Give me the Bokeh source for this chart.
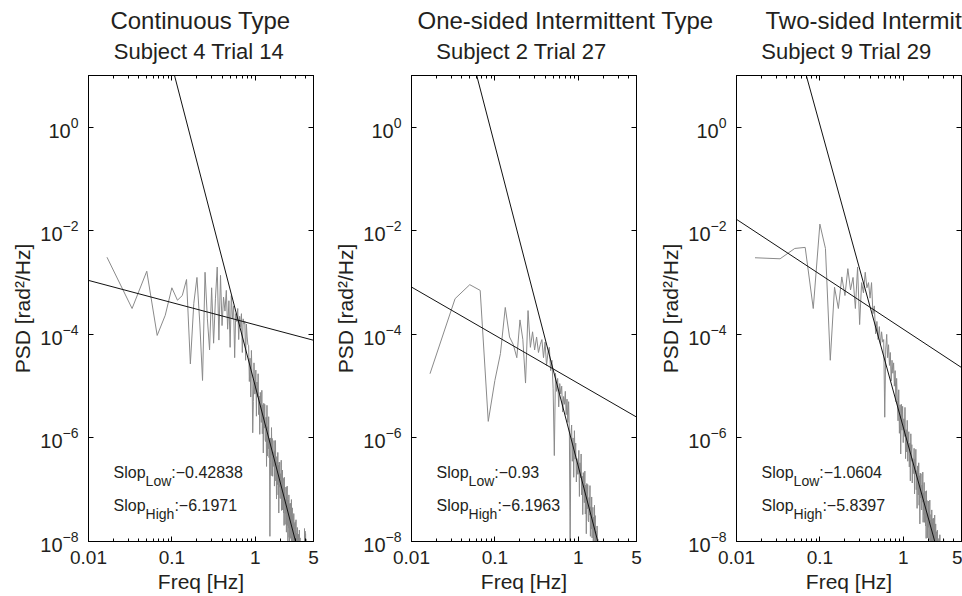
import numpy as np
from bokeh.plotting import figure
from bokeh.layouts import row, column
from bokeh.models import FixedTicker, LogAxis, Label, CustomJSTickFormatter
from bokeh.embed import file_html
from bokeh.resources import INLINE

FONT = "Liberation Sans"
TXT = "#231f20"
GRAY = "#8a8a8a"

# ---------------- data ----------------
main_titles = ["Continuous Type", "One-sided Intermittent Type", "Two-sided Intermittent Type"]
sub_titles = ["Subject 4  Trial 14", "Subject 2  Trial 27", "Subject 9  Trial 29"]

slope_low = [-0.42838, -0.93, -1.0604]
slope_high = [-6.1971, -6.1963, -5.8397]
# log10 of each fitted line's PSD value at 1 Hz
fit_low_at_1hz = [-3.814, -4.946, -3.899]
fit_high_at_1hz = [-5.0, -6.545, -5.79]

freq_step = 1.0 / 60.0  # Hz (60 s trials)

# log10 PSD [rad^2/Hz] at k * freq_step, k = 1, 2, ...
psd1_log10 = [
    -2.51, -3.50, -2.78, -4.02, -3.63, -3.10, -3.34, -3.25, -2.94, -4.57,
    -3.40, -2.90, -3.80, -4.89, -2.80, -3.70, -4.30, -3.10, -4.17, -3.30,
    -2.70, -4.11, -2.86, -3.83, -3.28, -3.55, -3.15, -3.90, -3.35, -4.25,
    -3.25, -3.70, -3.45, -4.45, -3.60, -3.75, -3.50, -4.10, -3.65, -3.85,
    -3.60, -4.35, -3.70, -3.80, -3.75, -4.50, -3.80, -4.05, -4.20,
    -4.21, -4.91, -4.46, -5.21, -4.31, -4.85, -5.90, -5.30, -4.55, -5.15,
    -5.15, -4.69, -5.58, -4.92, -5.21, -4.76, -5.55, -5.19, -5.93, -5.12,
    -5.31, -5.70, -5.08, -5.92, -5.36, -6.29, -5.33, -5.81, -5.35, -6.04,
    -6.07, -5.60, -6.55, -5.37, -6.35, -5.78, -6.21, -5.59, -6.38, -6.01,
    -7.90, -6.47, -6.00, -6.73, -5.80, -6.33, -6.01, -6.74, -6.27, -6.55,
    -6.53, -6.05, -6.93, -6.25, -6.53, -6.05, -6.83, -6.46, -7.18, -6.36,
    -6.53, -6.90, -6.28, -7.10, -6.53, -7.45, -6.47, -6.95, -6.47, -7.15,
    -7.17, -6.69, -7.01, -6.43, -7.40, -6.82, -7.25, -6.62, -7.39, -7.01,
    -6.78, -7.45, -6.97, -7.69, -6.76, -7.28, -6.95, -7.67, -7.19, -7.46,
    -7.43, -6.95, -7.82, -7.14, -7.41, -6.93, -7.69, -7.31, -8.03, -7.20,
    -7.37, -7.74, -7.10, -7.92, -7.34, -8.25, -7.27, -7.74, -7.26, -7.92,
    -7.94, -7.46, -7.77, -7.19, -8.15, -7.57, -7.99, -7.35, -8.12, -7.73,
    -7.50, -8.17, -7.68, -8.40, -7.46, -7.98, -7.65, -8.36, -7.88, -8.14,
    -8.11, -7.62, -8.49, -7.80, -8.07, -7.58, -8.34, -7.96, -8.67, -7.84,
    -8.00, -8.36, -7.73, -8.54, -7.96, -8.87, -7.88, -8.35, -7.86, -8.53,
    -8.54, -8.05, -8.37, -7.78, -8.74, -8.15, -8.57, -7.93, -8.69, -8.31,
    -8.07, -8.73, -8.25, -8.96, -8.02, -8.53, -8.20, -8.91, -8.42, -8.69,
    -8.65, -8.16, -9.02, -8.34, -8.60, -8.11, -8.87, -8.48, -9.20, -8.36,
    -8.52, -8.88, -8.24, -9.05, -7.75, -9.38, -8.39, -8.85, -7.80, -9.03,
    -9.00, -7.85, -9.20, -8.50, -7.95, -9.30, -8.60,
]

psd2_log10 = [
    -4.76, -3.31, -3.04, -3.15, -5.68, -4.89, -4.37, -3.48, -4.05, -4.20,
    -4.45, -3.72, -4.10, -4.94, -3.54, -4.25, -3.95, -4.30, -4.05, -4.35,
    -4.20, -4.10, -4.45, -4.15, -4.60, -4.35, -4.25, -4.70, -4.50, -5.05,
    -6.34, -4.75, -5.10, -4.85, -5.40, -4.95, -5.15, -5.00, -5.50, -5.20,
    -5.35, -5.10, -5.55, -5.25, -5.70, -5.30, -5.90, -8.20, -5.95,
    -5.75, -6.45, -6.00, -6.76, -5.86, -6.41, -6.10, -6.85, -6.40, -6.70,
    -6.70, -6.24, -7.13, -6.48, -6.77, -6.31, -7.10, -6.74, -7.48, -6.67,
    -6.86, -7.25, -6.64, -7.47, -6.91, -7.85, -6.88, -7.37, -6.90, -7.59,
    -7.62, -7.15, -7.49, -6.92, -7.90, -7.33, -7.76, -7.14, -7.93, -7.56,
    -7.34, -8.02, -7.53, -8.25, -7.30, -7.84, -7.50, -8.25, -7.80, -8.10,
    -8.15, -7.70, -8.45, -7.95, -8.60, -8.90,
]

psd3_log10 = [
    -2.52, -2.54, -2.34, -2.32, -3.50, -1.87, -2.34, -4.50, -3.09, -3.50,
    -2.89, -3.25, -2.73, -3.14, -2.90, -3.50, -2.70, -3.81, -3.00, -3.20,
    -2.80, -3.10, -3.00, -3.30, -3.00, -3.60, -3.45, -3.99, -3.75, -4.10,
    -3.85, -4.20, -3.95, -4.15, -4.10, -5.60, -4.30, -4.00, -4.45, -4.20,
    -4.60, -4.35, -4.90, -4.50, -4.75, -4.55, -5.00, -4.70, -5.30, -4.85,
    -5.28, -5.67, -5.07, -5.91, -5.36, -6.31, -5.35, -5.85, -5.39,
    -6.09, -5.63, -5.97, -5.41, -6.40, -5.84, -6.27, -5.66, -6.45, -6.09,
    -5.88, -6.56, -6.10, -6.83, -5.92, -6.45, -6.13, -6.87, -6.40, -6.69,
    -6.67, -6.20, -7.08, -6.41, -6.69, -6.22, -7.00, -6.63, -7.36, -6.54,
    -6.72, -7.10, -6.48, -7.30, -6.73, -7.66, -6.68, -7.16, -6.69, -7.36,
    -7.39, -6.91, -7.24, -6.66, -7.63, -7.06, -7.48, -6.86, -7.63, -7.25,
    -7.03, -7.70, -7.22, -7.94, -7.02, -7.54, -7.21, -7.93, -7.45, -7.73,
    -7.70, -7.22, -8.09, -7.41, -7.68, -7.20, -7.97, -7.59, -8.31, -7.48,
    -7.65, -8.02, -7.39, -8.21, -7.63, -8.55, -7.56, -8.03, -7.55, -8.22,
    -8.24, -7.76, -8.07, -7.49, -8.46, -7.88, -8.29, -7.66, -8.43, -8.04,
    -7.81, -8.48, -8.00, -8.71, -7.78, -8.30, -7.96, -8.68, -8.20, -8.46,
    -8.43, -7.94, -8.80, -8.11, -8.37, -7.87, -8.64, -8.25, -8.96, -8.13,
    -8.33, -8.69, -8.06, -8.87, -8.28, -9.19, -8.19, -8.65, -8.16, -8.83,
    -8.88, -8.38, -8.70, -7.95, -9.05, -8.15, -8.90, -8.05, -9.10, -8.60,
]

x_ticks = [0.01, 0.1, 1, 5]
x_minor_ticks = [0.02, 0.03, 0.04, 0.05, 0.06, 0.07, 0.08, 0.09,
                 0.2, 0.3, 0.4, 0.5, 0.6, 0.7, 0.8, 0.9, 2, 3, 4]
y_ticks = [1e-8, 1e-6, 1e-4, 1e-2, 1]
x_lim = (0.01, 5)
y_lim = (1e-8, 10)

# ---------------- layout constants ----------------
TOTAL_W = 962
HEAD_H = 66
PLOT_H = 530
panel_widths = [323, 323, 316]
panel_left = [88, 88, 90]
panel_right = [10, 10, 1]

# header (titles) strip
head = figure(width=TOTAL_W, height=HEAD_H, x_range=(0, TOTAL_W), y_range=(0, HEAD_H),
              x_axis_location=None, y_axis_location=None, min_border=0, title=None,
              outline_line_color=None, border_fill_color="white",
              toolbar_location=None, output_backend="svg")
head.grid.visible = False
main_pos = [(200, "center"), (417, "left"), (765, "left")]
sub_pos = [201.5, 524, 849]
for i in range(3):
    head.add_layout(Label(x=main_pos[i][0], y=46.3, text=main_titles[i], text_align=main_pos[i][1],
                          text_baseline="alphabetic", text_font=FONT, text_font_size="24px",
                          text_color=TXT))
    head.add_layout(Label(x=sub_pos[i], y=15.3, text=sub_titles[i], text_align="center",
                          text_baseline="alphabetic", text_font=FONT, text_font_size="22px",
                          text_color=TXT))


def style_axis(ax, label_size="19px"):
    ax.axis_line_color = "black"
    ax.axis_line_width = 1
    ax.major_tick_in = 5
    ax.major_tick_out = 0
    ax.minor_tick_in = 3
    ax.minor_tick_out = 0
    ax.major_tick_line_color = "black"
    ax.minor_tick_line_color = "black"
    ax.major_label_text_font = FONT
    ax.major_label_text_font_size = label_size
    ax.major_label_text_color = TXT
    ax.axis_label_text_font = FONT
    ax.axis_label_text_font_style = "normal"
    ax.axis_label_text_font_size = "21px"
    ax.axis_label_text_color = TXT


label_y = [1.65e-7, 3.8e-8]


def fmt(v):
    return str(v).replace("-", "\u2212")


def make_panel(i, psd_log10):
    freq = [k * freq_step for k in range(1, len(psd_log10) + 1)]
    psd = [10.0 ** v for v in psd_log10]
    p = figure(width=panel_widths[i], height=PLOT_H, x_axis_type="log", y_axis_type="log",
               x_range=x_lim, y_range=y_lim, title=None,
               min_border_left=panel_left[i], min_border_right=panel_right[i],
               min_border_top=9, min_border_bottom=55,
               toolbar_location=None, output_backend="svg",
               outline_line_color="black", outline_line_width=1,
               background_fill_color="white", border_fill_color="white")
    p.grid.visible = False

    p.line(freq, psd, line_color=GRAY, line_width=1)

    xs = np.array(x_lim, dtype=float)
    lx = np.log10(xs)
    p.line(xs, 10.0 ** (fit_low_at_1hz[i] + slope_low[i] * lx), line_color="#111111", line_width=1)
    p.line(xs, 10.0 ** (fit_high_at_1hz[i] + slope_high[i] * lx), line_color="#111111", line_width=1)

    xa = p.xaxis[0]
    xa.ticker = FixedTicker(ticks=x_ticks, minor_ticks=x_minor_ticks)
    xa.formatter = CustomJSTickFormatter(code="return tick.toString()")
    style_axis(xa)
    xa.major_label_standoff = 9
    xa.axis_label = "Freq [Hz]"
    xa.axis_label_standoff = 3

    ya = p.yaxis[0]
    ya.ticker = FixedTicker(ticks=y_ticks, minor_ticks=[])
    style_axis(ya, "20px")
    ya.major_label_standoff = 10
    ya.axis_label = "PSD [rad\u00b2/Hz]"
    ya.axis_label_standoff = 3

    top = LogAxis(ticker=FixedTicker(ticks=x_ticks, minor_ticks=x_minor_ticks),
                  formatter=CustomJSTickFormatter(code="return ''"))
    style_axis(top, "0px")
    top.major_label_standoff = 0
    p.add_layout(top, "above")

    right = LogAxis(ticker=FixedTicker(ticks=y_ticks, minor_ticks=[]),
                    formatter=CustomJSTickFormatter(code="return ''"))
    style_axis(right, "0px")
    right.major_label_standoff = 0
    p.add_layout(right, "right")

    # slope annotations (main text + subscript)
    rows = [("Low", slope_low[i], 25.7), ("High", slope_high[i], 28.8)]
    for (sub, val, sub_w), yy in zip(rows, label_y):
        p.add_layout(Label(x=0.02, y=yy, y_offset=5.5, text="Slop", text_font=FONT,
                           text_font_size="16px", text_color=TXT, text_baseline="alphabetic"))
        p.add_layout(Label(x=0.02, y=yy, x_offset=32, y_offset=-2.2, text=sub, text_font=FONT,
                           text_font_size="14px", text_color=TXT, text_baseline="alphabetic"))
        p.add_layout(Label(x=0.02, y=yy, x_offset=32 + sub_w, y_offset=5.5, text=":" + fmt(val),
                           text_font=FONT, text_font_size="16px", text_color=TXT,
                           text_baseline="alphabetic"))
    return p


p1 = make_panel(0, psd1_log10)
p2 = make_panel(1, psd2_log10)
p3 = make_panel(2, psd3_log10)

layout = column(head, row(p1, p2, p3))
open("out.html", "w").write(file_html(layout, INLINE))
